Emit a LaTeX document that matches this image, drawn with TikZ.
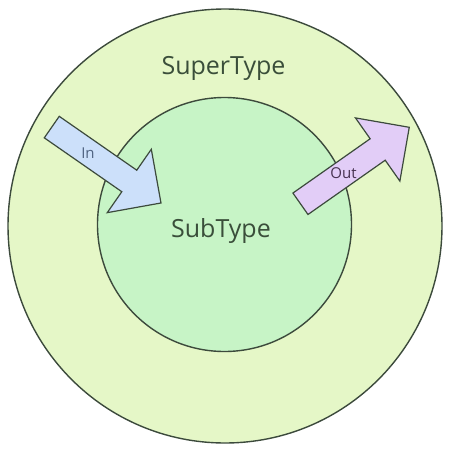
\documentclass[tikz,border=0pt]{standalone}
\usepackage{fontspec}
\setmainfont{Open Sans}
\usetikzlibrary{shapes.arrows}

\definecolor{rimgray}{RGB}{60,74,60}
\definecolor{superfill}{RGB}{229,247,199}
\definecolor{subfill}{RGB}{199,244,198}
\definecolor{infill}{RGB}{204,224,250}
\definecolor{outfill}{RGB}{226,205,247}
\definecolor{typetext}{RGB}{58,78,58}

\tikzset{
  typecircle/.style={circle, draw=rimgray, line width=1.4pt, inner sep=0pt},
  flowarrow/.style={single arrow, draw=rimgray, line width=1.2pt,
    inner xsep=0pt, inner ysep=12.5pt, single arrow head extend=25.5pt,
    single arrow tip angle=90, minimum height=133pt},
  typelabel/.style={font=\fontsize{25}{28}\selectfont, text=typetext},
  flowlabel/.style={font=\fontsize{15}{18}\selectfont}
}

\begin{document}
\begin{tikzpicture}[x=1pt, y=-1pt]
    \useasboundingbox (0,0) rectangle (449,453);

    % the two types
    \node[typecircle, fill=superfill, minimum size=434pt] (super) at (225,226) {};
    \node[typecircle, fill=subfill, minimum size=254pt] (sub) at (224.5,224.5) {};

    \node[typelabel] (superlbl) at (223.5,68) {SuperType};
    \node[typelabel] (sublbl) at (221,231) {SubType};

    % in and out
    \node[flowarrow, fill=infill, rotate=-34.8] (inarrow) at (101,161.3) {};
    \node[flowarrow, fill=outfill, rotate=35.1] (outarrow) at (349.5,169.3) {};

    \node[flowlabel, text={rgb,255:red,80;green,100;blue,130}] (inlbl) at (88,153) {In};
    \node[flowlabel, text={rgb,255:red,70;green,50;blue,80}] (outlbl) at (343.5,173) {Out};
\end{tikzpicture}
\end{document}
